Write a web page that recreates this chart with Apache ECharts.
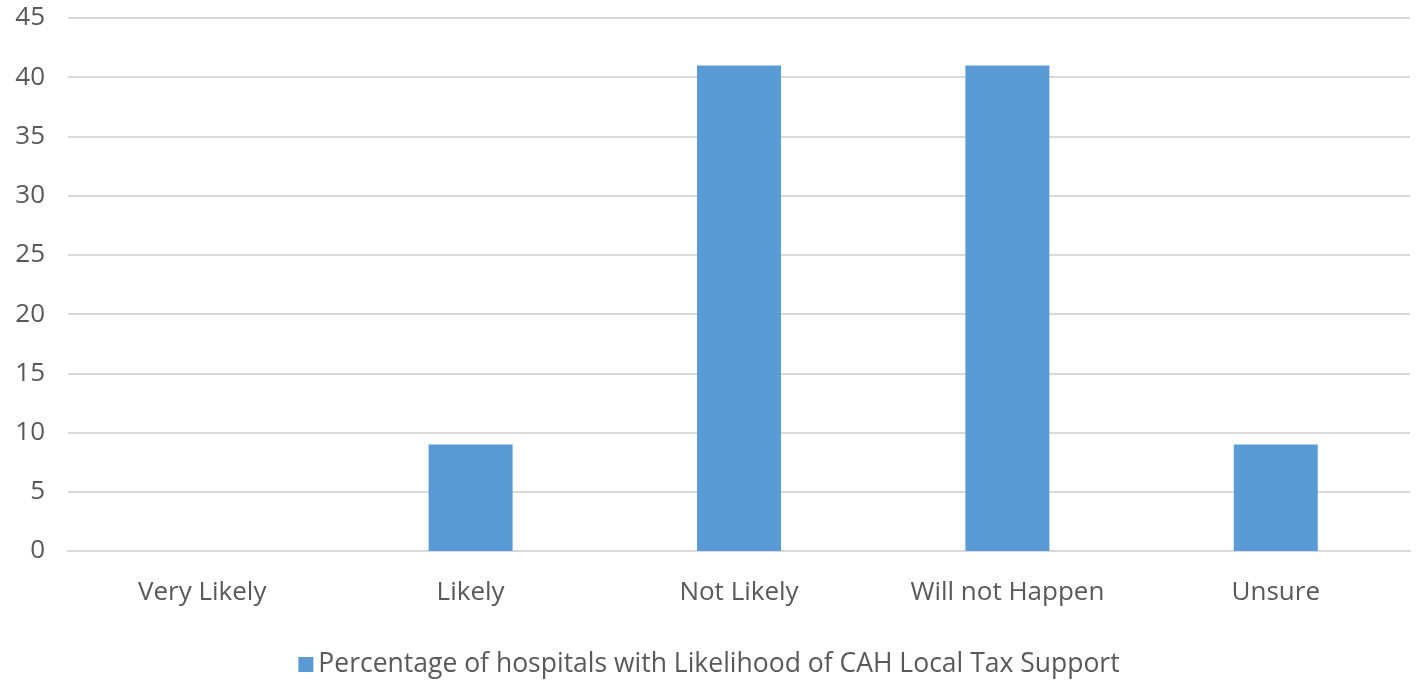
<!DOCTYPE html>
<html>
<head>
<meta charset="utf-8">
<script src="https://cdn.jsdelivr.net/npm/echarts@6/dist/echarts.min.js"></script>
<style>
  html, body { margin: 0; padding: 0; background: #fff; }
  #chart { width: 1418px; height: 683px; }
</style>
</head>
<body>
<div id="chart"></div>
<script>
// Survey responses on the likelihood of local tax support for CAHs
const categories = ['Very Likely', 'Likely', 'Not Likely', 'Will not Happen', 'Unsure'];
const percentages = [0, 9, 41, 41, 9];
const seriesName = 'Percentage of hospitals with Likelihood of CAH Local Tax Support';

const textColor = '#595959';
const fontFamily = '"Open Sans", "Noto Sans", sans-serif';

const chart = echarts.init(document.getElementById('chart'));
chart.setOption({
  animation: false,
  textStyle: { fontFamily: fontFamily },
  grid: { left: 68, right: 8, top: 18, bottom: 132 },
  legend: {
    top: 651,
    left: 'center',
    padding: 0,
    icon: 'rect',
    itemWidth: 15,
    itemHeight: 15,
    itemGap: 8,
    textStyle: { color: textColor, fontSize: 26.5, fontFamily: fontFamily },
    data: [seriesName]
  },
  xAxis: {
    type: 'category',
    data: categories,
    axisLine: { show: true, lineStyle: { color: '#d9d9d9', width: 2 } },
    axisTick: { show: false },
    axisLabel: { color: textColor, fontSize: 26, margin: 29, fontFamily: fontFamily }
  },
  yAxis: {
    type: 'value',
    min: 0,
    max: 45,
    interval: 5,
    axisLine: { show: false },
    axisTick: { show: false },
    splitLine: { lineStyle: { color: '#d9d9d9', width: 2 } },
    axisLabel: { color: textColor, fontSize: 26, margin: 23, fontFamily: fontFamily }
  },
  series: [{
    name: seriesName,
    type: 'bar',
    data: percentages,
    barWidth: '31.3%',
    itemStyle: { color: '#5b9bd5' }
  }]
});
</script>
</body>
</html>
